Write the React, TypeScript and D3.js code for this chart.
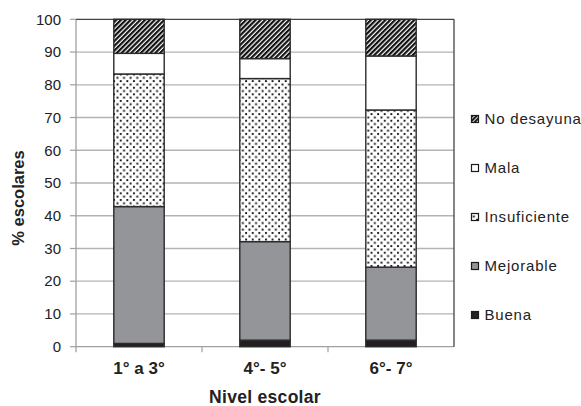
import React from "react";
import * as d3 from "d3";

const categories = ["1° a 3°", "4°- 5°", "6°- 7°"];
const seriesNames = ["Buena", "Mejorable", "Insuficiente", "Mala", "No desayuna"];
const buena = [1, 2, 2];
const mejorable = [41.8, 30.1, 22.3];
const insuficiente = [40.5, 49.8, 48.0];
const mala = [6.3, 6.1, 16.5];
const noDesayuna = [10.4, 12.0, 11.2];
const yTicks = [0, 10, 20, 30, 40, 50, 60, 70, 80, 90, 100];

const W = 581;
const H = 406;
const FONT = "'Liberation Sans', Arial, sans-serif";

const fills: Record<string, string> = {
  Buena: "#231f20",
  Mejorable: "#939598",
  Insuficiente: "url(#dots)",
  Mala: "#ffffff",
  "No desayuna": "url(#hatch)",
};

export default function App() {
  const left = 76, right = 454, top = 19.3, bottom = 346.7;
  const x = d3.scaleBand<string>().domain(categories).range([left, right]).paddingInner(0.6).paddingOuter(0.3);
  const y = d3.scaleLinear().domain([0, 100]).range([bottom, top]);

  const rows = categories.map((c, i) => ({
    cat: c,
    Buena: buena[i],
    Mejorable: mejorable[i],
    Insuficiente: insuficiente[i],
    Mala: mala[i],
    "No desayuna": noDesayuna[i],
  }));
  const stack = d3.stack<any>().keys(seriesNames);
  const layers = stack(rows);

  const step = x.step();
  const boundaries = categories.map((c) => (x(c) as number) - (step - x.bandwidth()) / 2).slice(1);

  const legendY0 = 119;
  const legendStep = 49;
  const legendOrder = [...seriesNames].reverse();

  return (
    <svg width={W} height={H} style={{ position: "absolute", left: 0, top: 0, background: "#fff" }} fontFamily={FONT}>
      <defs>
        <pattern id="hatch" patternUnits="userSpaceOnUse" width={3.4} height={3.4} patternTransform="rotate(45)">
          <rect width={3.4} height={3.4} fill="#fff" />
          <rect width={2.2} height={3.4} fill="#111" />
        </pattern>
        <pattern id="dots" patternUnits="userSpaceOnUse" width={6.6} height={6.6}>
          <rect width={6.6} height={6.6} fill="#fff" />
          <rect x={1} y={1} width={1.9} height={1.9} fill="#111" />
          <rect x={4.3} y={4.3} width={1.9} height={1.9} fill="#111" />
        </pattern>
        <pattern id="hatchSmall" patternUnits="userSpaceOnUse" width={3} height={3} patternTransform="rotate(45)">
          <rect width={3} height={3} fill="#1a1a1a" />
          <rect width={0.9} height={3} fill="#fff" />
        </pattern>
      </defs>

      {/* gridlines */}
      {yTicks.filter((t) => t > 0 && t < 100).map((t) => (
        <line key={t} x1={left} x2={right} y1={y(t)} y2={y(t)} stroke="#b3b3b3" strokeWidth={1.3} />
      ))}
      {/* y ticks */}
      {yTicks.map((t) => (
        <line key={"t" + t} x1={left - 6} x2={left} y1={y(t)} y2={y(t)} stroke="#a0a0a0" strokeWidth={1.2} />
      ))}
      {/* bottom axis */}
      <line x1={left} x2={right} y1={bottom} y2={bottom} stroke="#a0a0a0" strokeWidth={1.3} />
      {boundaries.map((b, i) => (
        <line key={"b" + i} x1={b} x2={b} y1={bottom} y2={bottom + 5.5} stroke="#a0a0a0" strokeWidth={1.2} />
      ))}
      {/* left axis */}
      <line x1={left} x2={left} y1={top} y2={bottom + 5.5} stroke="#a0a0a0" strokeWidth={1.3} />
      {/* top and right border */}
      <line x1={left} x2={right} y1={top} y2={top} stroke="#444" strokeWidth={1.3} />
      <line x1={right} x2={right} y1={top} y2={bottom} stroke="#444" strokeWidth={1.3} />

      {/* bars */}
      {layers.map((layer) => (
        <g key={layer.key}>
          {layer.map((d, i) => (
            <rect
              key={i}
              x={x(categories[i])}
              width={x.bandwidth()}
              y={y(d[1])}
              height={y(d[0]) - y(d[1])}
              fill={fills[layer.key]}
              stroke="#2b2b2b"
              strokeWidth={1.4}
            />
          ))}
        </g>
      ))}

      {/* y tick labels */}
      {yTicks.map((t) => (
        <text key={"l" + t} x={61} y={y(t)} dy="0.35em" textAnchor="end" fontSize={15} fill="#222">
          {t}
        </text>
      ))}
      {/* category labels */}
      {categories.map((c) => (
        <text key={c} x={(x(c) as number) + x.bandwidth() / 2} y={373.5} textAnchor="middle" fontSize={17} fontWeight="bold" fill="#222">
          {c}
        </text>
      ))}
      {/* axis titles */}
      <text x={265} y={403} textAnchor="middle" fontSize={17.5} fontWeight="bold" fill="#222" letterSpacing={0.3}>
        Nivel escolar
      </text>
      <text transform="translate(24,198) rotate(-90)" textAnchor="middle" fontSize={16.5} fontWeight="bold" fill="#222">
        % escolares
      </text>

      {/* legend */}
      {legendOrder.map((name, i) => {
        const cy = legendY0 + i * legendStep;
        const mfill = name === "No desayuna" ? "url(#hatchSmall)" : fills[name];
        return (
          <g key={name}>
            <rect x={471.5} y={cy - 3.5} width={7} height={7} fill={mfill} stroke="#1a1a1a" strokeWidth={1.2} />
            <text x={484.5} y={cy} dy="0.36em" fontSize={15} letterSpacing={0.8} fill="#222">
              {name}
            </text>
          </g>
        );
      })}
    </svg>
  );
}
